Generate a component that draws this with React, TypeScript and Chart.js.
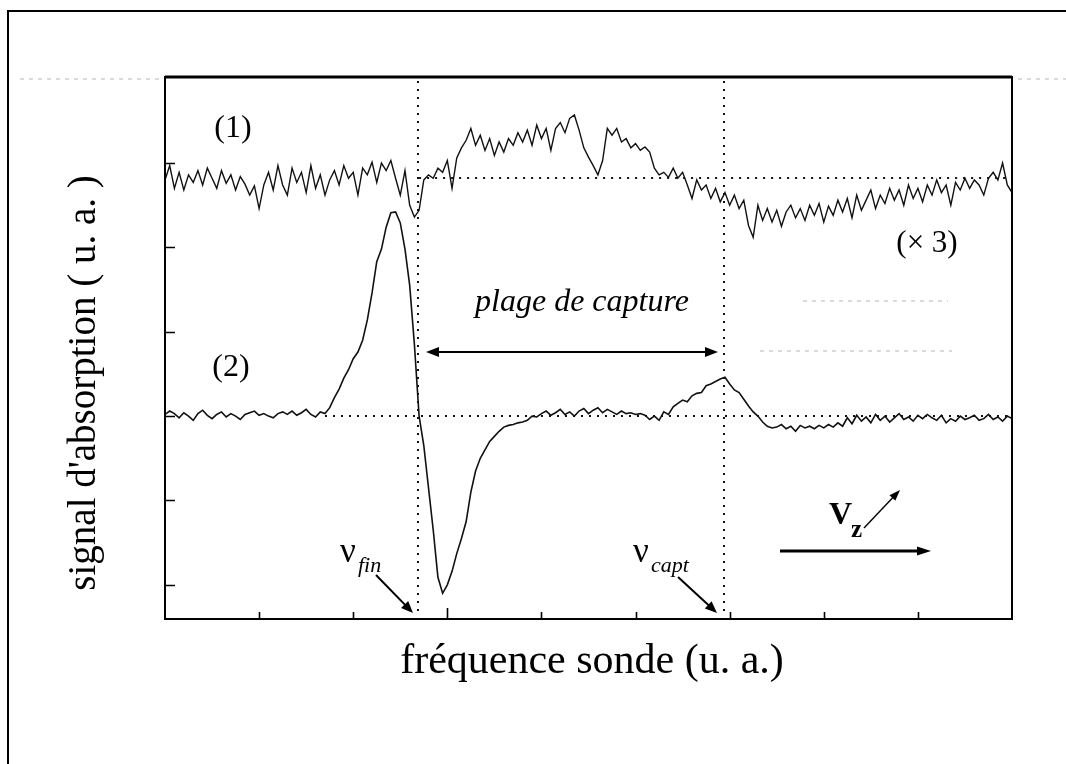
import React, { useEffect, useRef } from "react";
import { Chart, registerables } from "chart.js";

Chart.register(...registerables);

// Sample channels along the probe-frequency axis (arbitrary units)
const CHANNEL_COUNT = 181;
const channels: number[] = Array.from({ length: CHANNEL_COUNT }, (_, i) => i);

// Trace (1): amplified (x3) signal, arbitrary units
const trace1: number[] = [
  28.0, 29.7, 27.0, 28.9, 26.8, 28.6, 27.7, 29.1, 27.4, 29.4,
  28.2, 27.0, 29.1, 27.6, 28.6, 26.8, 28.4, 27.5, 26.2, 27.3,
  24.6, 27.4, 28.9, 26.8, 29.7, 27.4, 26.2, 29.4, 27.7, 28.9,
  26.5, 29.7, 27.0, 28.6, 26.2, 28.0, 29.1, 27.4, 29.7, 28.2,
  28.9, 26.2, 29.4, 28.6, 30.1, 27.7, 30.0, 29.1, 30.3, 28.2,
  26.2, 29.1, 25.0, 23.6, 24.4, 28.0, 28.6, 28.2, 29.4, 28.9,
  30.3, 27.0, 30.6, 31.8, 32.7, 34.1, 32.1, 33.3, 31.5, 32.9,
  30.9, 32.5, 31.3, 32.9, 32.1, 33.6, 32.5, 33.9, 32.1, 34.5,
  32.9, 34.1, 31.5, 34.1, 34.8, 33.6, 35.3, 35.7, 33.9, 31.8,
  30.7, 29.7, 28.6, 30.3, 34.1, 33.3, 34.1, 32.5, 32.9, 31.8,
  32.3, 31.5, 31.9, 31.3, 29.4, 28.6, 28.9, 28.3, 29.4, 28.2,
  28.9, 27.4, 25.8, 28.0, 26.8, 27.4, 25.8, 27.0, 25.4, 26.5,
  25.0, 26.2, 24.6, 25.6, 22.6, 21.2, 25.0, 23.2, 24.6, 23.0,
  24.4, 22.5, 24.2, 25.0, 23.5, 24.6, 23.2, 25.0, 23.8, 25.2,
  23.0, 24.9, 23.8, 25.6, 24.2, 25.8, 23.5, 26.2, 24.4, 25.6,
  26.8, 24.6, 26.2, 25.2, 27.0, 25.6, 26.8, 25.0, 27.4, 25.8,
  27.0, 25.4, 27.4, 26.2, 28.0, 26.5, 27.4, 25.0, 27.7, 26.8,
  28.2, 27.0, 28.0, 27.4, 26.2, 28.2, 28.9, 28.0, 30.0, 27.4,
  26.5,
];

// Trace (2): absorption signal, arbitrary units
const trace2: number[] = [
  0.2, 0.6, 0.3, -0.2, 0.4, 0.0, -0.5, 0.3, 0.7, 0.1,
  -0.3, 0.2, 0.5, -0.1, 0.3, 0.0, -0.4, 0.2, 0.4, 0.6,
  0.1, 0.3, 0.0, -0.2, 0.3, 0.5, 0.2, 0.6, 0.1, 0.4,
  0.8, 0.2, -0.1, 0.5, 0.3, 1.0, 2.2, 3.2, 4.5, 5.5,
  6.8, 7.6, 9.0, 11.4, 14.6, 18.3, 19.8, 22.4, 24.1, 24.2,
  22.9, 19.8, 15.5, 8.5, 0.0, -3.5, -8.5, -13.5, -19.1, -21.0,
  -20.0, -18.4, -16.3, -14.5, -12.5, -9.0, -6.5, -5.0, -4.0, -3.0,
  -2.4, -1.8, -1.3, -1.1, -1.0, -0.8, -0.7, -0.5, 0.0, -0.1,
  0.3, 0.6, 0.1, 0.4, 0.8, 0.2, 0.5, 0.0, 0.6, 0.9,
  0.3, 0.7, 1.0, 0.4, 0.8, 0.5, 0.2, 0.6, 0.3, 0.4,
  0.2, 0.3, 0.1, -0.4, 0.0, -0.5, 0.5, 0.2, 1.1, 1.5,
  1.9, 1.7, 2.4, 2.7, 2.8, 3.6, 3.8, 4.1, 4.4, 4.6,
  3.8, 3.1, 2.8, 2.0, 1.2, 0.5, 0.0, -0.7, -1.2, -1.4,
  -1.3, -1.0, -1.5, -1.2, -1.8, -1.1, -1.4, -1.2, -1.5, -1.1,
  -1.4, -1.0, -1.3, -0.8, -1.2, -0.2, -0.9, 0.1, -0.6, -0.1,
  -0.8, 0.2, -0.5, 0.0, -0.7, -0.2, 0.3, -0.4, -0.1, -0.6,
  0.1, -0.3, 0.2, -0.2, -0.5, 0.1, -0.8, -0.3, -0.6, 0.0,
  -0.4, -0.2, 0.1, -0.5, -0.3, 0.2, -0.4, -0.1, -0.6, 0.0,
  -0.3,
];

// Reference levels and markers (data units)
const baseline1 = 28.2;
const baseline1Start = 54;
const baseline2 = 0;
const baseline2Start = 34;
const nuFin = 53.8;
const nuCapt = 118.8;
const xTicks = [20, 40, 60, 80, 100, 120, 140, 160];
const yTicks = [-20, -10, 0, 10, 20, 30];
const X_MIN = 0;
const X_MAX = 180;
const Y_MIN = -24.05;
const Y_MAX = 40.2;

const SERIF = '"Liberation Serif", "Times New Roman", serif';

function arrow(
  ctx: CanvasRenderingContext2D,
  x1: number, y1: number, x2: number, y2: number,
  head: number, half: number, lw: number, both = false
) {
  const ang = Math.atan2(y2 - y1, x2 - x1);
  const drawHead = (x: number, y: number, a: number) => {
    ctx.beginPath();
    ctx.moveTo(x, y);
    ctx.lineTo(x - head * Math.cos(a) + half * Math.sin(a), y - head * Math.sin(a) - half * Math.cos(a));
    ctx.lineTo(x - head * Math.cos(a) - half * Math.sin(a), y - head * Math.sin(a) + half * Math.cos(a));
    ctx.closePath();
    ctx.fill();
  };
  ctx.lineWidth = lw;
  ctx.beginPath();
  const sx = both ? x1 + (head - 1) * Math.cos(ang) : x1;
  const sy = both ? y1 + (head - 1) * Math.sin(ang) : y1;
  ctx.moveTo(sx, sy);
  ctx.lineTo(x2 - (head - 1) * Math.cos(ang), y2 - (head - 1) * Math.sin(ang));
  ctx.stroke();
  drawHead(x2, y2, ang);
  if (both) drawHead(x1, y1, ang + Math.PI);
}

const decorPlugin = {
  id: "decor",
  beforeDatasetsDraw(chart: any) {
    const ctx: CanvasRenderingContext2D = chart.ctx;
    const xs = chart.scales.x;
    const ys = chart.scales.y;
    const a = chart.chartArea;
    ctx.save();
    ctx.strokeStyle = "#111";
    ctx.lineWidth = 2;
    ctx.setLineDash([2, 6]);
    // vertical markers
    for (const v of [nuFin, nuCapt]) {
      const px = Math.round(xs.getPixelForValue(v));
      ctx.beginPath();
      ctx.moveTo(px, a.top + 4);
      ctx.lineTo(px, a.bottom - 4);
      ctx.stroke();
    }
    // baselines
    ctx.lineWidth = 1.8;
    const b1 = Math.round(ys.getPixelForValue(baseline1));
    ctx.beginPath();
    ctx.moveTo(xs.getPixelForValue(baseline1Start), b1);
    ctx.lineTo(a.right - 3, b1);
    ctx.stroke();
    const b2 = Math.round(ys.getPixelForValue(baseline2));
    ctx.beginPath();
    ctx.moveTo(xs.getPixelForValue(baseline2Start), b2);
    ctx.lineTo(a.right - 3, b2);
    ctx.stroke();
    // faint scan artifacts
    ctx.strokeStyle = "rgba(120,120,120,0.55)";
    ctx.lineWidth = 1;
    ctx.setLineDash([4, 5]);
    ctx.beginPath();
    ctx.moveTo(803, 301); ctx.lineTo(948, 301);
    ctx.moveTo(760, 351); ctx.lineTo(952, 351);
    ctx.moveTo(20, 79); ctx.lineTo(160, 79);
    ctx.moveTo(1018, 79); ctx.lineTo(1066, 79);
    ctx.stroke();
    ctx.restore();
  },
  afterDraw(chart: any) {
    const ctx: CanvasRenderingContext2D = chart.ctx;
    const xs = chart.scales.x;
    const ys = chart.scales.y;
    const a = chart.chartArea;
    ctx.save();
    ctx.setLineDash([]);
    ctx.strokeStyle = "#000";
    ctx.fillStyle = "#000";
    // page border (scan)
    ctx.lineWidth = 2;
    ctx.beginPath();
    ctx.moveTo(8, 764);
    ctx.lineTo(8, 11);
    ctx.lineTo(1066, 11);
    ctx.stroke();
    // plot frame
    ctx.lineWidth = 2;
    ctx.strokeRect(a.left, a.top, a.right - a.left, a.bottom - a.top);
    ctx.lineWidth = 3;
    ctx.beginPath();
    ctx.moveTo(a.left, a.top);
    ctx.lineTo(a.right, a.top);
    ctx.stroke();
    // inward ticks
    ctx.lineWidth = 1.6;
    ctx.beginPath();
    for (const t of xTicks) {
      const px = Math.round(xs.getPixelForValue(t)) + 0.5;
      const len = t === 60 ? 11 : 7;
      ctx.moveTo(px, a.bottom);
      ctx.lineTo(px, a.bottom - len);
    }
    for (const t of yTicks) {
      const py = Math.round(ys.getPixelForValue(t)) + 0.5;
      ctx.moveTo(a.left, py);
      ctx.lineTo(a.left + 10, py);
    }
    ctx.stroke();

    // labels
    ctx.textBaseline = "alphabetic";
    ctx.textAlign = "center";
    ctx.font = `32px ${SERIF}`;
    ctx.fillText("(1)", 233, 137);
    ctx.fillText("(2)", 231, 376);
    ctx.font = `31px ${SERIF}`;
    ctx.fillText("(× 3)", 927, 252);
    ctx.font = `italic 32px ${SERIF}`;
    ctx.fillText("plage de capture", 582, 311);

    // range double arrow
    ctx.lineWidth = 2;
    arrow(ctx, 426, 352, 718, 352, 13, 5, 2, true);

    // nu_fin
    ctx.textAlign = "left";
    ctx.font = `35px ${SERIF}`;
    ctx.fillText("ν", 340, 562);
    ctx.font = `italic 22px ${SERIF}`;
    ctx.fillText("fin", 358, 572);
    arrow(ctx, 376, 575, 413, 613, 12, 5, 2);

    // nu_capt
    ctx.font = `35px ${SERIF}`;
    ctx.fillText("ν", 633, 562);
    ctx.font = `italic 22px ${SERIF}`;
    ctx.fillText("capt", 651, 572);
    arrow(ctx, 678, 577, 717, 613, 12, 5, 2);

    // V_z
    ctx.font = `bold 32px ${SERIF}`;
    ctx.fillText("V", 829, 524);
    ctx.font = `bold 25px ${SERIF}`;
    ctx.fillText("z", 851, 537);
    arrow(ctx, 864, 528, 900, 490, 11, 4, 1.4);
    arrow(ctx, 780, 551, 931, 551, 14, 4.5, 3);

    // axis titles
    ctx.textAlign = "center";
    ctx.font = `42px ${SERIF}`;
    ctx.fillText("fréquence sonde (u. a.)", 592, 673);
    ctx.save();
    ctx.translate(95, 383);
    ctx.rotate(-Math.PI / 2);
    ctx.font = `39px ${SERIF}`;
    ctx.fillText("signal d'absorption ( u. a. )", 0, 0);
    ctx.restore();

    ctx.restore();
  },
};

export default function App() {
  const ref = useRef<HTMLCanvasElement | null>(null);
  useEffect(() => {
    if (!ref.current) return;
    const chart = new Chart(ref.current, {
      type: "line",
      data: {
        labels: channels,
        datasets: [
          {
            label: "(1)",
            data: trace1,
            borderColor: "#111",
            borderWidth: 1.4,
            pointRadius: 0,
            tension: 0,
            fill: false,
          },
          {
            label: "(2)",
            data: trace2,
            borderColor: "#111",
            borderWidth: 1.6,
            pointRadius: 0,
            tension: 0,
            fill: false,
          },
        ],
      },
      options: {
        animation: false,
        responsive: false,
        devicePixelRatio: 1,
        layout: { padding: { left: 165, right: 54, top: 77, bottom: 145 } },
        plugins: { legend: { display: false }, tooltip: { enabled: false }, title: { display: false } },
        scales: {
          x: { type: "linear", min: X_MIN, max: X_MAX, display: false },
          y: { type: "linear", min: Y_MIN, max: Y_MAX, display: false },
        },
      },
      plugins: [decorPlugin],
    });
    return () => chart.destroy();
  }, []);
  return (
    <div style={{ position: "fixed", left: 0, top: 0, width: 1066, height: 764, background: "#fff" }}>
      <canvas ref={ref} width={1066} height={764} />
    </div>
  );
}
